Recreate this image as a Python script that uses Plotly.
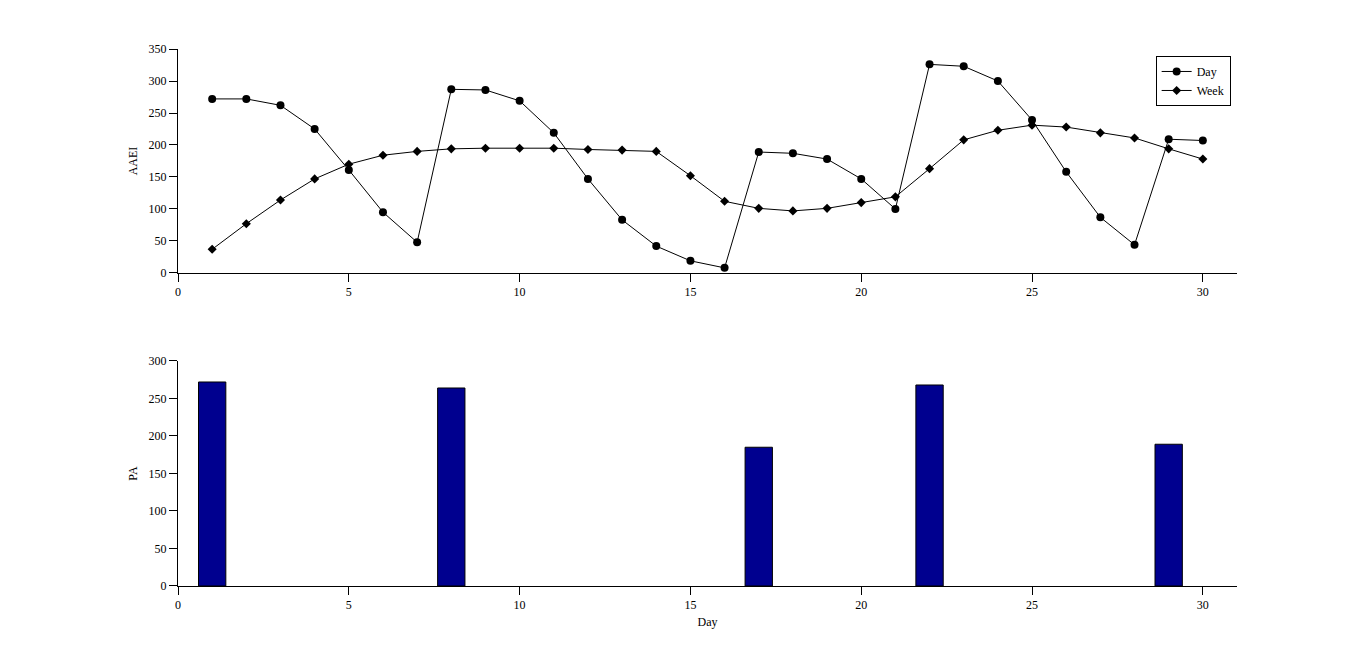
import plotly.graph_objects as go
from plotly.subplots import make_subplots

days = list(range(1, 31))
day_vals = [272, 272, 262, 225, 161, 95, 48, 287, 286, 269,
            219, 147, 83, 42, 19, 8, 189, 187, 178, 147,
            100, 326, 323, 300, 239, 158, 87, 44, 209, 207]
week_vals = [37, 77, 114, 147, 170, 184, 190, 194, 195, 195,
             195, 193, 192, 190, 152, 112, 101, 97, 101, 110,
             119, 163, 208, 223, 231, 228, 219, 211, 194, 178]
pa_days = [1, 8, 17, 22, 29]
pa_vals = [272, 264, 185, 268, 189]

font_family = "Liberation Serif"

fig = make_subplots(rows=2, cols=1, shared_xaxes=False, vertical_spacing=0.0)

fig.add_trace(go.Scatter(x=days, y=day_vals, mode="lines+markers", name="Day",
                         line=dict(color="black", width=1),
                         marker=dict(symbol="circle", size=8, color="black")),
              row=1, col=1)
fig.add_trace(go.Scatter(x=days, y=week_vals, mode="lines+markers", name="Week",
                         line=dict(color="black", width=1),
                         marker=dict(symbol="diamond", size=7, color="black")),
              row=1, col=1)
fig.add_trace(go.Bar(x=pa_days, y=pa_vals, width=0.8, showlegend=False,
                     marker=dict(color="rgb(0,0,143)", line=dict(color="black", width=1))),
              row=2, col=1)

axis_common = dict(showgrid=False, zeroline=False, showline=True, linecolor="black",
                   linewidth=1, ticks="outside", ticklen=8, tickcolor="black",
                   tickfont=dict(family=font_family, size=12, color="black"),
                   mirror=False)

fig.update_xaxes(range=[0, 31], tickvals=[0, 5, 10, 15, 20, 25, 30], **axis_common)
fig.update_xaxes(domain=[0, 1])
fig.update_yaxes(**axis_common)
fig.update_yaxes(range=[0, 350], tickvals=list(range(0, 351, 50)), domain=[0.5829, 1.0],
                 title=dict(text="AAEI", font=dict(family=font_family, size=12, color="black"), standoff=8),
                 row=1, col=1)
fig.update_yaxes(range=[0, 300], tickvals=list(range(0, 301, 50)), domain=[0.0, 0.419],
                 title=dict(text="PA", font=dict(family=font_family, size=12, color="black"), standoff=8),
                 row=2, col=1)
fig.update_xaxes(title=dict(text="Day", font=dict(family=font_family, size=12, color="black"), standoff=6),
                 row=2, col=1)

fig.update_layout(
    width=1359, height=650,
    margin=dict(l=170, r=130, t=41, b=72),
    paper_bgcolor="white", plot_bgcolor="white",
    font=dict(family=font_family, size=12, color="black"),
    showlegend=True,
    legend=dict(x=0.994, y=0.987, xanchor="right", yanchor="top",
                bordercolor="black", borderwidth=1, bgcolor="white",
                font=dict(family=font_family, size=12, color="black"),
                tracegroupgap=0, itemwidth=30),
)

fig.write_html("out.html")
